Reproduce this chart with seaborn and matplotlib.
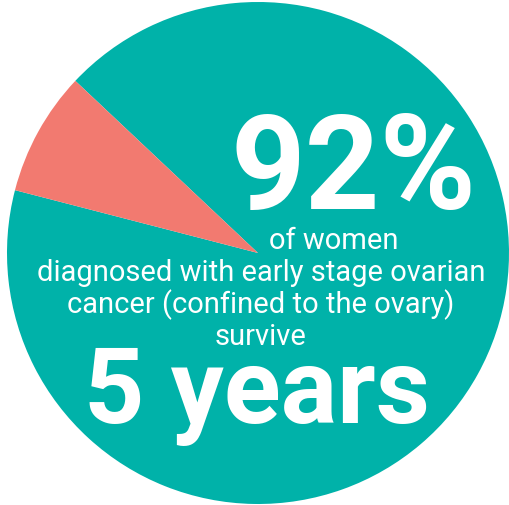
import matplotlib
matplotlib.use("Agg")
import matplotlib.pyplot as plt
import seaborn as sns

categories = ["Survive 5 years", "Other"]
values = [92, 8]
colors = ["#00B2A9", "#F27A70"]
headline = "92%"
line1 = "of women"
body = "diagnosed with early stage ovarian\ncancer (confined to the ovary)\nsurvive"
footer = "5 years"

sns.set_theme(style="white")
plt.rcParams['font.family'] = ['Roboto', 'DejaVu Sans']

fig = plt.figure(figsize=(5.10, 5.05), dpi=100)
ax = fig.add_axes([0, 0, 1, 1])
ax.pie(values, colors=colors, startangle=-136.7, counterclock=True,
       center=(258, 253), radius=251, wedgeprops=dict(linewidth=0))
ax.set_xlim(0, 510)
ax.set_ylim(505, 0)
ax.set_aspect('equal')
ax.axis('off')

ax.text(354, 173, headline, color="white", fontsize=94, fontweight="bold",
        ha="center", va="center")
ax.text(334, 241, line1, color="white", fontsize=21, ha="center", va="center")
ax.text(261, 305, body, color="white", fontsize=21, ha="center", va="center",
        linespacing=1.12)
ax.text(257, 395, footer, color="white", fontsize=76, fontweight="bold",
        ha="center", va="center")

fig.savefig("out.png", dpi=100)
